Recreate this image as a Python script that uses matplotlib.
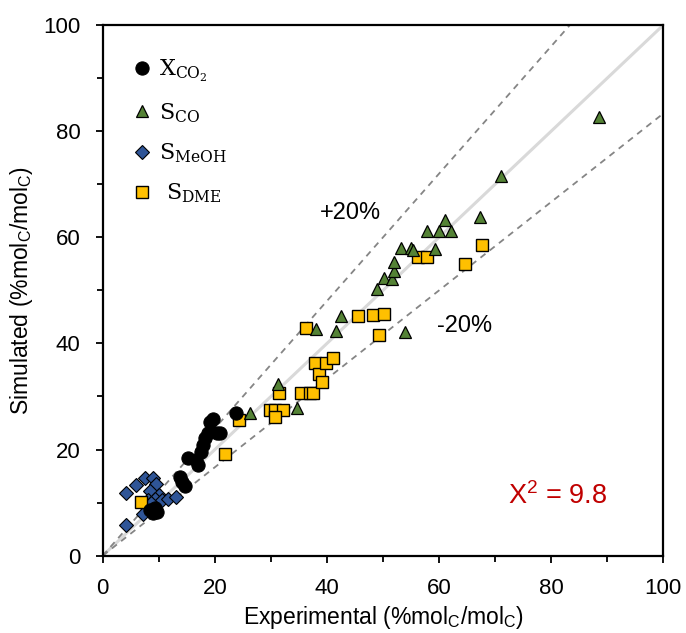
import matplotlib
matplotlib.use("Agg")
import matplotlib.pyplot as plt
import numpy as np
from matplotlib.ticker import MultipleLocator

# ---- data ----
xco2_exp = [23.8, 19.7, 19.1, 20.3, 20.9, 18.8, 18.2, 17.9, 17.6, 15.2, 16.7, 17.0,
            13.8, 14.1, 14.6, 9.3, 9.6, 9.0, 8.4]
xco2_sim = [26.8, 25.7, 25.2, 23.1, 23.1, 23.1, 22.1, 20.8, 19.6, 18.4, 18.0, 17.1,
            14.9, 13.9, 13.1, 8.9, 8.3, 8.0, 8.6]

sco_exp = [26.3, 31.2, 34.6, 38.1, 41.6, 42.5, 54.0, 49.0, 50.2, 51.6, 51.9, 52.0,
           53.2, 55.0, 55.3, 59.3, 57.9, 60.0, 62.1, 61.1, 67.3, 71.0, 88.5]
sco_sim = [26.9, 32.4, 27.9, 42.7, 42.4, 45.2, 42.1, 50.2, 52.3, 52.1, 53.7, 55.3,
           57.9, 58.0, 57.6, 57.8, 61.1, 61.1, 61.1, 63.3, 63.8, 71.6, 82.7]

smeoh_exp = [4.1, 5.9, 7.5, 9.0, 9.5, 8.4, 10.1, 8.1, 9.3, 10.5, 11.7, 13.0, 7.8,
             7.2, 4.1, 8.6]
smeoh_sim = [11.8, 13.3, 14.6, 14.6, 13.6, 12.2, 11.4, 10.5, 10.6, 10.5, 10.6, 11.1,
             9.2, 7.8, 5.8, 9.9]

sdme_exp = [6.9, 21.8, 24.4, 29.8, 30.7, 32.1, 30.8, 31.5, 35.4, 36.9, 37.5, 37.8,
            38.6, 39.1, 39.9, 41.0, 36.3, 45.6, 48.2, 50.1, 49.2, 56.2, 57.8, 64.6, 67.6]
sdme_sim = [10.2, 19.2, 25.6, 27.5, 27.5, 27.5, 26.2, 30.6, 30.6, 30.6, 30.6, 36.3,
            34.3, 32.8, 36.3, 37.2, 43.0, 45.2, 45.4, 45.5, 41.6, 56.2, 56.2, 54.9, 58.5]

chi2 = 9.8
tick_vals = [0, 20, 40, 60, 80, 100]

plt.rcParams['font.family'] = ['Liberation Sans', 'DejaVu Sans']
plt.rcParams['mathtext.fontset'] = 'custom'
plt.rcParams['mathtext.rm'] = 'DejaVu Serif'
plt.rcParams['mathtext.it'] = 'DejaVu Serif:italic'
plt.rcParams['mathtext.sf'] = 'Liberation Sans'

fig = plt.figure(figsize=(6.86, 6.33), dpi=100)
ax = fig.add_axes([0.1497, 0.1221, 0.967 - 0.1497, 0.9605 - 0.1221])

xx = np.array([0, 100])
ax.plot(xx, xx, color='#D9D9D9', lw=2.2, zorder=1)
ax.plot(xx, xx * 1.2, color='#858585', lw=1.3, ls=(0, (3.5, 3)), zorder=1)
ax.plot(xx, xx / 1.2, color='#858585', lw=1.3, ls=(0, (3.5, 3)), zorder=1)

ax.plot(smeoh_exp, smeoh_sim, 'D', ms=7.2, mfc='#2F5597', mec='black', mew=0.8,
        ls='none', zorder=3, label=r'$\mathrm{S_{MeOH}}$')
ax.plot(sdme_exp, sdme_sim, 's', ms=8.7, mfc='#FFC000', mec='black', mew=1.0,
        ls='none', zorder=3, label=r'$\mathrm{\ S_{DME}}$')
ax.plot(sco_exp, sco_sim, '^', ms=9, mfc='#548235', mec='black', mew=0.9,
        ls='none', zorder=3, label=r'$\mathrm{S_{CO}}$')
ax.plot(xco2_exp, xco2_sim, 'o', ms=9.5, mfc='black', mec='black', mew=0.8,
        ls='none', zorder=4, label=r'$\mathrm{X_{CO_2}}$')

ax.set_xlim(0, 100)
ax.set_ylim(0, 100)
ax.set_xticks(tick_vals)
ax.set_yticks(tick_vals)
ax.xaxis.set_minor_locator(MultipleLocator(10))
ax.yaxis.set_minor_locator(MultipleLocator(10))
ax.tick_params(which='major', direction='out', length=5, width=1.3, labelsize=16, pad=11)
ax.tick_params(which='minor', direction='out', length=4, width=1.3)
for s in ax.spines.values():
    s.set_linewidth(1.6)

ax.set_xlabel(r'Experimental (%mol$_\mathsf{C}$/mol$_\mathsf{C}$)', fontsize=16.5, labelpad=4)
ax.set_ylabel(r'Simulated (%mol$_\mathsf{C}$/mol$_\mathsf{C}$)', fontsize=16.5, labelpad=6)

ax.text(44.2, 64.5, '+20%', fontsize=17, ha='center', va='center')
ax.text(64.5, 43.3, '-20%', fontsize=17, ha='center', va='center')
ax.text(72.3, 11.2, r'X$^\mathsf{2}$ = %.1f' % chi2, fontsize=19.5, color='#C00000',
        ha='left', va='center')

handles, labels = ax.get_legend_handles_labels()
order = [3, 2, 0, 1]
leg = ax.legend([handles[i] for i in order], [labels[i] for i in order],
                loc='upper left', bbox_to_anchor=(0.01, 0.975), frameon=False,
                labelspacing=0.75, handletextpad=0.2, handlelength=1.2,
                prop={'size': 16})

fig.savefig('out.png', dpi=100)
